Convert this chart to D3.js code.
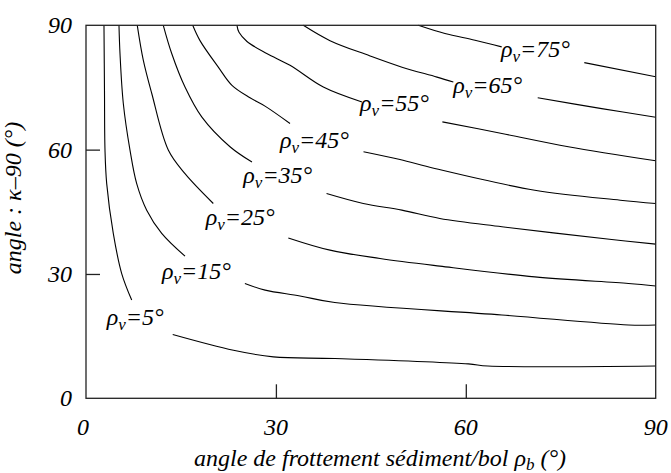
<!DOCTYPE html>
<html>
<head>
<meta charset="utf-8">
<script src="https://cdn.jsdelivr.net/npm/d3@7"></script>
<style>
  html, body { margin: 0; padding: 0; background: #fff; }
  svg { display: block; }
  text { font-family: "Liberation Serif", "Times New Roman", serif; font-style: italic; fill: #000; }
</style>
</head>
<body>
<svg id="chart" width="671" height="473"></svg>
<script>
// ---- data (degrees) ----
const xTicks = [0, 30, 60, 90];
const yTicks = [0, 30, 60, 90];
const rhoV = [5, 15, 25, 35, 45, 55, 65, 75];

// each curve: [upper segment, lower segment] of [rho_b, kappa-90] points (gap = label)
const curve5 = [
  [[2.84, 90], [2.92, 74.3], [3.0, 59.9], [3.27, 51.8], [4.31, 39.8], [5.64, 30.1], [7.22, 23.7]],
  [[13.7, 15.4], [23.3, 11.6], [29.6, 10.0], [39.3, 9.6], [60.4, 8.3], [63.5, 7.8], [90, 7.8]]
];
const curve15 = [
  [[5.21, 90], [5.37, 83.2], [5.89, 71.2], [6.95, 59.9], [8.01, 51.8], [9.59, 45.4], [11.96, 39.8], [15.64, 34.3]],
  [[25.1, 27.7], [28.3, 26.1], [33.8, 24.7], [39.3, 23.1], [65.7, 20.1], [85.7, 17.7], [90, 17.7]]
];
const curve25 = [
  [[8.10, 90], [9.05, 81.6], [10.38, 73.6], [13.0, 59.9], [15.64, 54.2], [20.11, 47.0]],
  [[31.96, 38.7], [38.55, 35.75], [46.45, 33.75], [55.9, 31.9], [70.9, 29.3], [85.7, 27.7], [90, 27.1]]
];
const curve35 = [
  [[12.21, 90], [13.54, 83.2], [15.64, 75.1], [18.28, 67.9], [22.75, 60.7], [26.22, 57.0]],
  [[38.0, 49.4], [43.8, 47.0], [49.9, 45.4], [55.9, 43.4], [65.7, 41.4], [83.05, 38.3], [90, 37.2]]
];
const curve45 = [
  [[16.86, 90], [18.01, 86.3], [20.9, 79.9], [23.06, 75.5], [25.91, 72.5], [28.28, 70.5], [32.23, 66.3]],
  [[43.84, 59.5], [49.6, 57.6], [55.1, 55.45], [70.9, 50.2], [84.4, 47.8], [90, 47.0]]
];
const curve55 = [
  [[23.85, 90], [24.17, 88.3], [25.43, 86.1], [28.55, 83.2], [32.23, 80.35], [37.49, 75.1], [43.6, 71.5]],
  [[56.3, 66.7], [65.7, 63.9], [76.2, 60.7], [90, 57.3]]
];
const curve65 = [
  [[34.33, 90], [38.55, 86.3], [44.71, 82.7], [49.92, 79.9], [55.45, 77.5], [58.03, 76.3]],
  [[71.36, 72.5], [81.47, 69.9], [90, 67.8]]
];
const curve75 = [
  [[52.5, 90], [56.71, 88.0], [61.45, 86.4], [65.67, 84.8]],
  [[78.72, 81.0], [90, 77.6]]
];
const curves = [curve5, curve15, curve25, curve35, curve45, curve55, curve65, curve75];

// label anchor (rho_b, kappa-90) of each curve label
const labelX = [3.27, 12.0, 18.9, 24.85, 30.65, 43.3, 58.0, 65.56];
const labelY = [17.7, 28.8, 41.8, 51.9, 60.3, 69.3, 73.6, 82.3];

// ---- drawing ----
const svg = d3.select("#chart");
const L = 86, R = 655.7, T = 25.3, B = 398.3;
const x = d3.scaleLinear().domain([0, 90]).range([L, R]);
const y = d3.scaleLinear().domain([0, 90]).range([B, T]);

const line = d3.line()
  .x(d => x(d[0])).y(d => y(d[1]))
  .curve(d3.curveCatmullRom.alpha(0.5));

const g = svg.append("g");
curves.forEach(c => {
  c.forEach(seg => {
    g.append("path").attr("d", line(seg))
      .attr("fill", "none").attr("stroke", "#000").attr("stroke-width", 1.1);
  });
});

// frame
svg.append("rect").attr("x", L).attr("y", T).attr("width", R - L).attr("height", B - T)
  .attr("fill", "none").attr("stroke", "#222").attr("stroke-width", 1.3);

// inward ticks
const xAxis = d3.axisBottom(x).tickValues([30, 60]).tickSize(-14).tickFormat("");
svg.append("g").attr("transform", `translate(0,${B})`).call(xAxis)
  .call(s => s.select(".domain").remove())
  .call(s => s.selectAll("line").attr("stroke", "#222").attr("stroke-width", 1.3));
const yAxis = d3.axisLeft(y).tickValues([30, 60]).tickSize(-14).tickFormat("");
svg.append("g").attr("transform", `translate(${L},0)`).call(yAxis)
  .call(s => s.select(".domain").remove())
  .call(s => s.selectAll("line").attr("stroke", "#222").attr("stroke-width", 1.3));

// tick labels
svg.selectAll(".xl").data(xTicks).enter().append("text")
  .attr("x", d => x(d) - (d === 0 ? 3 : 0)).attr("y", B + 37)
  .attr("text-anchor", "middle").attr("font-size", 24).text(d => d);
svg.selectAll(".yl").data(yTicks).enter().append("text")
  .attr("x", 72).attr("y", d => y(d) + 8)
  .attr("text-anchor", "end").attr("font-size", 24).text(d => d);

// curve labels
rhoV.forEach((v, i) => {
  const t = svg.append("text").attr("x", x(labelX[i])).attr("y", y(labelY[i])).attr("font-size", 24);
  t.append("tspan").text("ρ");
  t.append("tspan").attr("font-size", 17).attr("dy", 5).text("v");
  t.append("tspan").attr("dy", -5).text("=" + v + "°");
});

// axis titles
const xt = svg.append("text").attr("x", 380).attr("y", 466).attr("text-anchor", "middle").attr("font-size", 24);
xt.append("tspan").text("angle de frottement sédiment/bol ρ");
xt.append("tspan").attr("font-size", 17).attr("dy", 4).text("b");
xt.append("tspan").attr("dy", -4).text(" (°)");

svg.append("text").attr("transform", "translate(21,198) rotate(-90)")
  .attr("text-anchor", "middle").attr("font-size", 24).text("angle : κ–90 (°)");
</script>
</body>
</html>
